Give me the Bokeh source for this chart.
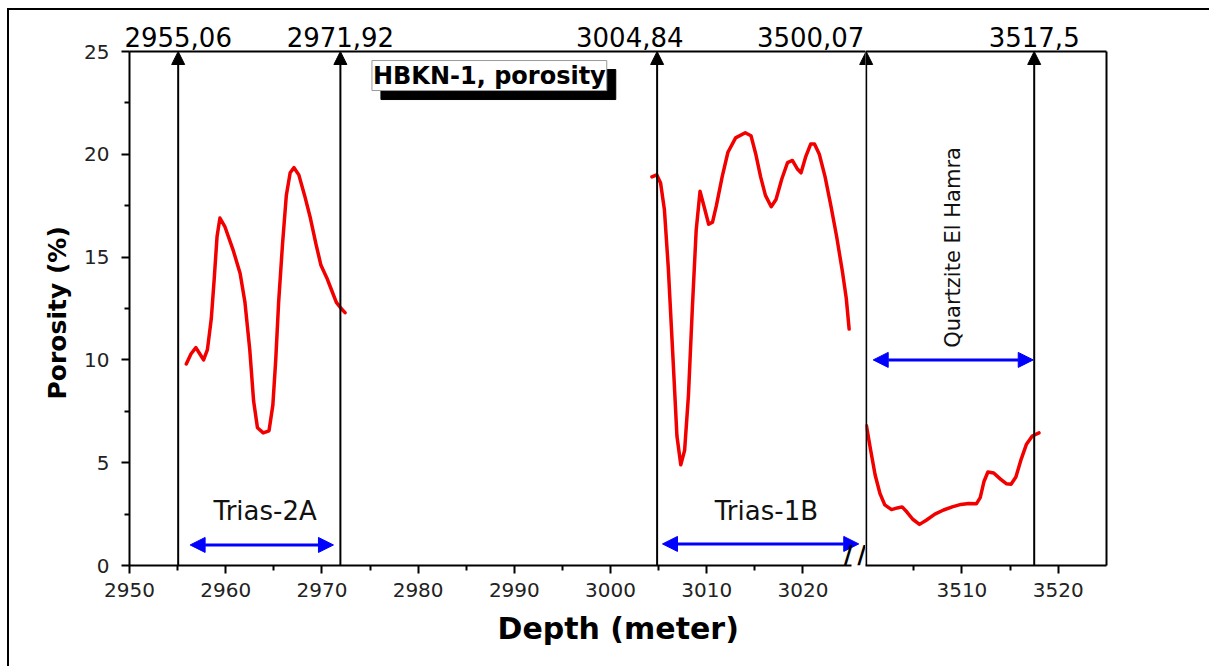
from bokeh.plotting import figure
from bokeh.models import Range1d, FixedTicker, LinearAxis, Label, Arrow, NormalHead, Title
from bokeh.layouts import row
from bokeh.embed import file_html
from bokeh.resources import INLINE

# ---------------- data ----------------
depth_2a = [2955.9, 2956.4, 2956.9, 2957.3, 2957.7, 2958.1, 2958.5, 2958.8, 2959.1, 2959.4,
            2959.9, 2960.8, 2961.5, 2962.0, 2962.5, 2962.9, 2963.3, 2963.9, 2964.5, 2964.9,
            2965.2, 2965.5, 2965.9, 2966.3, 2966.7, 2967.1, 2967.6, 2968.2, 2968.8, 2969.4,
            2969.9, 2970.5, 2971.0, 2971.5, 2972.0, 2972.4]
por_2a = [9.8, 10.3, 10.6, 10.3, 10.0, 10.5, 12.0, 13.9, 16.0, 16.9,
          16.5, 15.3, 14.2, 12.8, 10.5, 8.0, 6.7, 6.45, 6.55, 7.8,
          10.0, 12.8, 15.6, 18.0, 19.1, 19.35, 19.0, 18.0, 16.9, 15.6,
          14.6, 14.0, 13.4, 12.8, 12.5, 12.3]

depth_1b = [3004.3, 3004.8, 3005.2, 3005.6, 3006.0, 3006.5, 3006.9, 3007.3, 3007.7, 3008.1,
            3008.5, 3008.9, 3009.3, 3009.7, 3010.2, 3010.6, 3011.0, 3011.6, 3012.2, 3013.0,
            3014.0, 3014.6, 3015.1, 3015.6, 3016.1, 3016.7, 3017.2, 3017.8, 3018.4, 3018.9,
            3019.4, 3019.8, 3020.3, 3020.8, 3021.2, 3021.7, 3022.3, 3022.9, 3023.5, 3024.1,
            3024.5, 3024.8]
por_1b = [18.9, 19.0, 18.6, 17.3, 14.5, 10.0, 6.3, 4.9, 5.6, 8.3,
          12.5, 16.3, 18.2, 17.5, 16.6, 16.7, 17.5, 18.9, 20.1, 20.8,
          21.05, 20.9, 20.0, 18.9, 18.0, 17.45, 17.8, 18.8, 19.6, 19.7,
          19.3, 19.1, 19.9, 20.5, 20.5, 20.0, 18.9, 17.5, 16.0, 14.3,
          13.0, 11.5]

depth_qh = [3500.1, 3500.5, 3501.0, 3501.5, 3502.0, 3502.7, 3503.3, 3503.8, 3504.3, 3504.9,
            3505.6, 3506.3, 3507.2, 3508.1, 3509.0, 3509.9, 3510.7, 3511.5, 3511.9, 3512.3,
            3512.7, 3513.3, 3514.0, 3514.6, 3515.1, 3515.6, 3516.1, 3516.7, 3517.3, 3518.0]
por_qh = [6.8, 5.7, 4.4, 3.5, 2.95, 2.72, 2.8, 2.85, 2.6, 2.25,
          2.0, 2.2, 2.5, 2.7, 2.85, 2.97, 3.02, 3.0, 3.3, 4.1,
          4.55, 4.5, 4.2, 3.98, 3.95, 4.3, 5.1, 5.9, 6.3, 6.45]

top_depths = [2955.06, 2971.92, 3004.84, 3500.07, 3517.5]
top_labels = ["2955,06", "2971,92", "3004,84", "3500,07", "3517,5"]

zone_names = ["Trias-2A", "Trias-1B", "Quartzite El Hamra"]
zone_start = [2956.3, 3005.4, 3500.8]
zone_end = [2971.2, 3025.8, 3517.4]
zone_arrow_y = [1.0, 1.05, 10.0]

x_major_left = [2950, 2960, 2970, 2980, 2990, 3000, 3010, 3020]
x_minor_left = [2955, 2965, 2975, 2985, 2995, 3005, 3015]
x_major_right = [3510, 3520]
x_minor_right = [3505, 3515]
y_major = [0, 5, 10, 15, 20, 25]
y_minor = [2.5, 7.5, 12.5, 17.5, 22.5]

# ---------------- layout / style ----------------
LEFT_RANGE = (2950, 3026.5)
RIGHT_RANGE = (3500, 3525)
# where each top label is centred (layout positions, in the data units of its panel)
top_label_pos_left = [2955.06, 2971.92, 3002.0, 3020.8]
top_label_pos_right = [3517.5]

FONT = "DejaVu Sans"
RED = "#f20000"
BLUE = "#0000ff"


def style_axis(ax, standoff):
    ax.axis_line_width = 2
    ax.axis_line_color = "black"
    ax.major_tick_line_width = 2
    ax.minor_tick_line_width = 2
    ax.major_tick_line_color = "black"
    ax.minor_tick_line_color = "black"
    ax.major_tick_out = 8
    ax.major_tick_in = 0
    ax.minor_tick_out = 5
    ax.minor_tick_in = 0
    ax.major_label_text_font = FONT
    ax.major_label_text_font_size = "20px"
    ax.major_label_text_color = "#222222"
    ax.major_label_standoff = standoff


def top_axis(positions, labels):
    return LinearAxis(ticker=FixedTicker(ticks=positions),
                      major_label_overrides=dict(zip(positions, labels)),
                      major_label_text_font=FONT, major_label_text_font_size="26px",
                      major_label_text_color="black", major_label_standoff=5,
                      axis_line_width=2, axis_line_color="black",
                      major_tick_line_color=None, minor_tick_line_color=None,
                      major_tick_out=0, major_tick_in=0)


common = dict(frame_height=514, y_range=Range1d(0, 25), output_backend="svg",
              toolbar_location=None, tools="", outline_line_color=None,
              background_fill_color="white", border_fill_color="white",
              min_border_top=41, min_border_bottom=101)

p1 = figure(frame_width=736, x_range=Range1d(*LEFT_RANGE),
            min_border_left=120, min_border_right=0, **common)
p2 = figure(frame_width=241, x_range=Range1d(*RIGHT_RANGE), y_axis_location=None,
            min_border_left=0, min_border_right=103, **common)

for p in (p1, p2):
    p.xgrid.visible = False
    p.ygrid.visible = False

p1.add_layout(top_axis(top_label_pos_left, top_labels[:4]), "above")
p2.add_layout(top_axis(top_label_pos_right, top_labels[4:]), "above")
p2.add_layout(LinearAxis(ticker=FixedTicker(ticks=[]), major_label_text_font_size="0px",
                         axis_line_width=2, axis_line_color="black",
                         major_tick_line_color=None, minor_tick_line_color=None), "right")

xb1 = p1.below[0]
xb2 = p2.below[0]
yl1 = p1.left[0]
style_axis(xb1, 9)
style_axis(xb2, 9)
style_axis(yl1, 12)
xb1.ticker = FixedTicker(ticks=x_major_left, minor_ticks=x_minor_left)
xb1.bounds = (LEFT_RANGE[0], 3025)
xb2.ticker = FixedTicker(ticks=x_major_right, minor_ticks=x_minor_right)
yl1.ticker = FixedTicker(ticks=y_major, minor_ticks=y_minor)
yl1.axis_label = "Porosity  (%)"
yl1.axis_label_text_font = FONT
yl1.axis_label_text_font_style = "bold"
yl1.axis_label_text_font_size = "25px"
yl1.axis_label_text_color = "black"
yl1.axis_label_standoff = 9

p1.add_layout(Title(text="Depth (meter)", align="left", offset=368, text_font=FONT,
                    text_font_style="bold", text_font_size="30px", text_color="black",
                    standoff=19), "below")

# porosity curves
for p, xs, ys in ((p1, depth_2a, por_2a), (p1, depth_1b, por_1b), (p2, depth_qh, por_qh)):
    p.line(xs, ys, line_color=RED, line_width=3.5, line_join="round", line_cap="round")


def top_arrow(x):
    return Arrow(x_start=x, y_start=0, x_end=x, y_end=25, line_width=2, line_color="black",
                 end=NormalHead(size=13, fill_color="black", line_color="black"))


# formation tops: vertical arrows
for d in top_depths:
    if d < RIGHT_RANGE[0]:
        p1.add_layout(top_arrow(d))
    else:
        p2.add_layout(top_arrow(d))
        if d - RIGHT_RANGE[0] < 0.5:
            # same line seen at the axis break from the left panel (its left half)
            p1.add_layout(top_arrow(LEFT_RANGE[1] + (d - RIGHT_RANGE[0])))

# zone double arrows
for name, xs, xe, ya in zip(zone_names, zone_start, zone_end, zone_arrow_y):
    p = p1 if xs < RIGHT_RANGE[0] else p2
    p.add_layout(Arrow(x_start=xs, y_start=ya, x_end=xe, y_end=ya, line_width=3,
                       line_color=BLUE,
                       start=NormalHead(size=15, fill_color=BLUE, line_color=BLUE),
                       end=NormalHead(size=15, fill_color=BLUE, line_color=BLUE)))

p1.add_layout(Label(x=2964.1, y=2.65, text=zone_names[0], text_font=FONT, text_font_size="26px",
                    text_color="#111111", text_align="center", text_baseline="alphabetic"))
p1.add_layout(Label(x=3016.2, y=2.65, text=zone_names[1], text_font=FONT, text_font_size="26px",
                    text_color="#111111", text_align="center", text_baseline="alphabetic"))
p2.add_layout(Label(x=3509.1, y=15.47, text=zone_names[2], text_font=FONT, text_font_size="21px",
                    text_color="#111111", text_align="center", text_baseline="middle",
                    angle=1.5707963))

# title box with shadow
title_kw = dict(x=2975.2, y=24.56, text="HBKN-1, porosity", text_font=FONT,
                text_font_style="bold", text_font_size="24px",
                text_align="left", text_baseline="top", padding=1)
p1.add_layout(Label(x_offset=9, y_offset=-9, text_color="black",
                    background_fill_color="black", border_line_color="black", **title_kw))
p1.add_layout(Label(text_color="black", background_fill_color="white",
                    border_line_color="#999999", border_line_width=1, **title_kw))

# axis break marks
for bx in (3024.7, 3026.1):
    p1.add_layout(Label(x=bx, y=0, y_offset=-3, text="/", text_font=FONT, text_font_size="24px",
                        text_font_style="bold", text_color="black", text_align="center",
                        text_baseline="bottom"))

layout = row(p1, p2, styles={"margin-left": "7px", "margin-top": "8px",
                             "border-left": "2px solid black", "border-top": "2px solid black"})

open("out.html", "w").write(file_html(layout, INLINE))
